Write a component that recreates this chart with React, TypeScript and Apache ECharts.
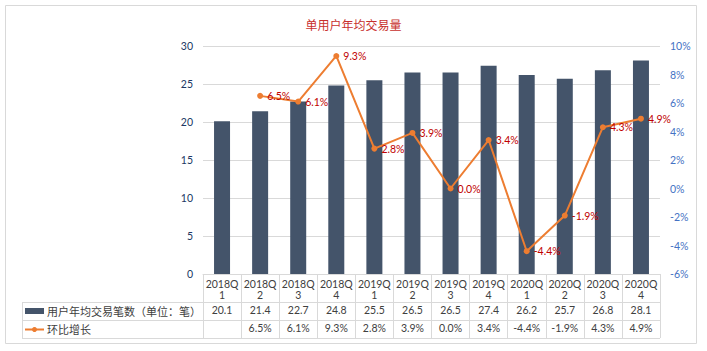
import React, { useEffect, useRef } from "react";
import * as echarts from "echarts";

const categories = [
  "2018Q\n1", "2018Q\n2", "2018Q\n3", "2018Q\n4",
  "2019Q\n1", "2019Q\n2", "2019Q\n3", "2019Q\n4",
  "2020Q\n1", "2020Q\n2", "2020Q\n3", "2020Q\n4",
];
const tradeCounts = [20.1, 21.4, 22.7, 24.8, 25.5, 26.5, 26.5, 27.4, 26.2, 25.7, 26.8, 28.1];
const growthRates: (number | null)[] = [null, 6.5, 6.1, 9.3, 2.8, 3.9, 0.0, 3.4, -4.4, -1.9, 4.3, 4.9];
const barName = "用户年均交易笔数（单位：笔）";
const lineName = "环比增长";
const titleText = "单用户年均交易量";

export default function App() {
  const ref = useRef<HTMLDivElement>(null);
  useEffect(() => {
    const chart = echarts.init(ref.current!, null, { renderer: "svg" });
    const font = "Lato, 'Noto Sans CJK SC', sans-serif";
    const L = 203, R = 660, T = 46, B = 274;
    const tableLeft = 22;
    const gridColor = "#d9d9d9";
    const textColor = "#404040";
    const fs = 10.5;
    const fmtPct = (v: number | null) => (v === null || v === undefined ? "" : v.toFixed(1) + "%");

    const hLine = (x1: number, x2: number, y: number) => ({
      type: "line",
      silent: true,
      shape: { x1, y1: y + 0.5, x2, y2: y + 0.5 },
      style: { stroke: gridColor, lineWidth: 1 },
    });
    const vLine = (x: number, y1: number, y2: number) => ({
      type: "line",
      silent: true,
      shape: { x1: x + 0.5, y1, x2: x + 0.5, y2 },
      style: { stroke: gridColor, lineWidth: 1 },
    });

    chart.setOption({
      animation: false,
      textStyle: { fontFamily: font },
      title: {
        text: titleText,
        left: "center",
        top: 14,
        textStyle: { fontSize: 12, fontWeight: "normal", color: "#C8302D", fontFamily: font },
      },
      grid: { left: L, right: 707 - R, top: T, bottom: 351 - B, containLabel: false },
      xAxis: [
        {
          type: "category",
          data: categories,
          axisLine: { show: true, onZero: false, lineStyle: { color: gridColor } },
          axisTick: { show: true, interval: 0, length: 338 - B, lineStyle: { color: gridColor } },
          axisLabel: { interval: 0, fontSize: fs, lineHeight: 11, margin: 4, color: textColor, fontFamily: font },
        },
        {
          type: "category",
          data: categories,
          position: "bottom",
          offset: 302 - B,
          axisLine: { show: false },
          axisTick: { show: false },
          axisLabel: {
            interval: 0, fontSize: fs, margin: 3, color: textColor, fontFamily: font,
            formatter: (_: string, i: number) => tradeCounts[i].toFixed(1),
          },
        },
        {
          type: "category",
          data: categories,
          position: "bottom",
          offset: 320 - B,
          axisLine: { show: false },
          axisTick: { show: false },
          axisLabel: {
            interval: 0, fontSize: fs, margin: 3, color: textColor, fontFamily: font,
            formatter: (_: string, i: number) => fmtPct(growthRates[i]),
          },
        },
      ],
      yAxis: [
        {
          type: "value",
          min: 0,
          max: 30,
          interval: 5,
          axisLine: { show: false },
          axisTick: { show: false },
          splitLine: { lineStyle: { color: gridColor } },
          axisLabel: { fontSize: fs, margin: 10, color: "#203864", fontFamily: font },
        },
        {
          type: "value",
          min: -6,
          max: 10,
          interval: 2,
          position: "right",
          axisLine: { show: false },
          axisTick: { show: false },
          splitLine: { show: false },
          axisLabel: { fontSize: fs, margin: 10, color: "#4472C4", fontFamily: font, formatter: "{value}%" },
        },
      ],
      series: [
        {
          name: barName,
          type: "bar",
          xAxisIndex: 0,
          yAxisIndex: 0,
          data: tradeCounts,
          barWidth: 16,
          itemStyle: { color: "#44546A" },
        },
        {
          name: lineName,
          type: "line",
          xAxisIndex: 0,
          yAxisIndex: 1,
          data: growthRates,
          symbol: "circle",
          symbolSize: 6,
          lineStyle: { color: "#ED7D31", width: 2 },
          itemStyle: { color: "#ED7D31" },
          label: {
            show: true,
            position: "right",
            distance: 4,
            fontSize: fs,
            color: "#C00000",
            fontFamily: font,
            formatter: (p: any) => fmtPct(p.value),
          },
          z: 5,
        },
      ],
      graphic: [
        {
          type: "rect",
          silent: true,
          shape: { x: 5.5, y: 5.5, width: 691, height: 338 },
          style: { fill: "none", stroke: gridColor, lineWidth: 1 },
        },
        hLine(tableLeft, R, 302),
        hLine(tableLeft, R, 320),
        hLine(tableLeft, R, 338),
        vLine(tableLeft, 302, 339),
        vLine(L, 274, 339),
        {
          type: "rect",
          silent: true,
          shape: { x: 25, y: 308, width: 19, height: 6 },
          style: { fill: "#44546A" },
        },
        {
          type: "text",
          silent: true,
          style: { x: 47, y: 311.5, text: barName, fontSize: 11, fill: textColor, fontFamily: font, verticalAlign: "middle" },
        },
        {
          type: "line",
          silent: true,
          shape: { x1: 25, y1: 329.5, x2: 44, y2: 329.5 },
          style: { stroke: "#ED7D31", lineWidth: 2 },
        },
        {
          type: "circle",
          silent: true,
          shape: { cx: 34.5, cy: 329.5, r: 2.5 },
          style: { fill: "#ED7D31" },
        },
        {
          type: "text",
          silent: true,
          style: { x: 47, y: 329.5, text: lineName, fontSize: 11, fill: textColor, fontFamily: font, verticalAlign: "middle" },
        },
      ],
    });
    return () => chart.dispose();
  }, []);
  return <div ref={ref} style={{ position: "absolute", left: 0, top: 0, width: 707, height: 351 }} />;
}
